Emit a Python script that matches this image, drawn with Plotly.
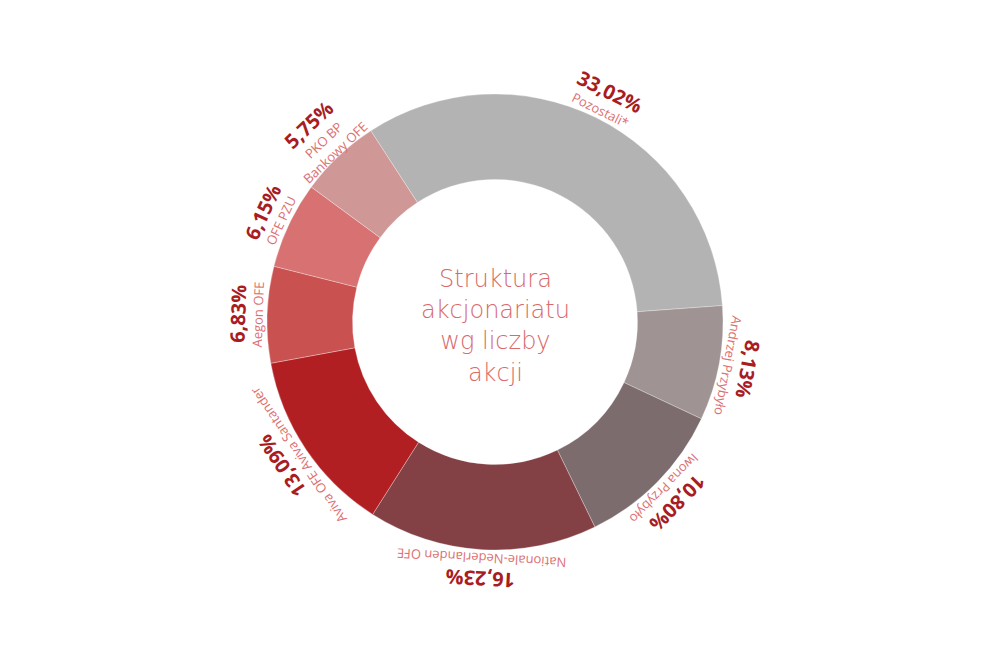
import math
import plotly.graph_objects as go

# shareholder structure (share count)
names = ["Pozostali*", "Andrzej Przybyło", "Iwona Przybyło", "Nationale-Nederlanden OFE",
         "Aviva OFE Aviva Santander", "Aegon OFE", "OFE PZU", "PKO BP<br>Bankowy OFE"]
shares = [33.02, 8.13, 10.80, 16.23, 13.09, 6.83, 6.15, 5.75]
colors = ["#b3b3b3", "#a09393", "#7c6c6d", "#834045", "#b21f23", "#c95251", "#d87172", "#d09797"]
center_title = "Struktura<br>akcjonariatu<br>wg liczby<br>akcji"

W, H = 993, 672
# the page body has an 8px margin, so screen positions are shifted by 8
cx, cy, R = 495 - 8, 322 - 8, 228
start = -33  # degrees clockwise from 12 o'clock

fig = go.Figure(go.Pie(
    labels=[n.replace("<br>", " ") for n in names],
    values=shares,
    marker=dict(colors=colors, line=dict(color="rgba(255,255,255,0.5)", width=0.6)),
    hole=0.625,
    sort=False,
    direction="clockwise",
    rotation=start,
    textinfo="none",
    hoverinfo="label+percent",
    domain=dict(x=[(cx - R) / W, (cx + R) / W], y=[(H - cy - R) / H, (H - cy + R) / H]),
))

def pos(theta, r):
    a = math.radians(theta)
    return (cx + r * math.sin(a)) / W, 1 - (cy - r * math.cos(a)) / H

total = sum(shares)
acc = 0
annotations = []
for n, v in zip(names, shares):
    mid = start + (acc + v / 2) / total * 360
    acc += v
    nl = n.count("<br>")
    r_name = R + 9 + 5 * nl
    r_pct = R + 29 + 14 * nl
    ang = ((mid + 180) % 360) - 180
    x, y = pos(mid, r_name)
    annotations.append(dict(x=x, y=y, xref="paper", yref="paper", text=n, showarrow=False,
                            textangle=ang, xanchor="center", yanchor="middle",
                            font=dict(family="Open Sans", size=13, color="#dc6f72")))
    x, y = pos(mid, r_pct)
    annotations.append(dict(x=x, y=y, xref="paper", yref="paper",
                            text=f"{v:.2f}%".replace(".", ","), showarrow=False,
                            textangle=ang, xanchor="center", yanchor="middle",
                            font=dict(family="Open Sans", size=20, color="#a81c22", weight=700)))

annotations.append(dict(x=cx / W, y=1 - (cy + 4) / H, xref="paper", yref="paper",
                        text=center_title, showarrow=False, xanchor="center", yanchor="middle",
                        font=dict(family="DejaVu Sans", size=24, color="#d9696c", weight=200)))

fig.update_layout(
    width=W, height=H,
    margin=dict(l=0, r=0, t=0, b=0),
    paper_bgcolor="white",
    showlegend=False,
    annotations=annotations,
)

fig.write_html("out.html")
